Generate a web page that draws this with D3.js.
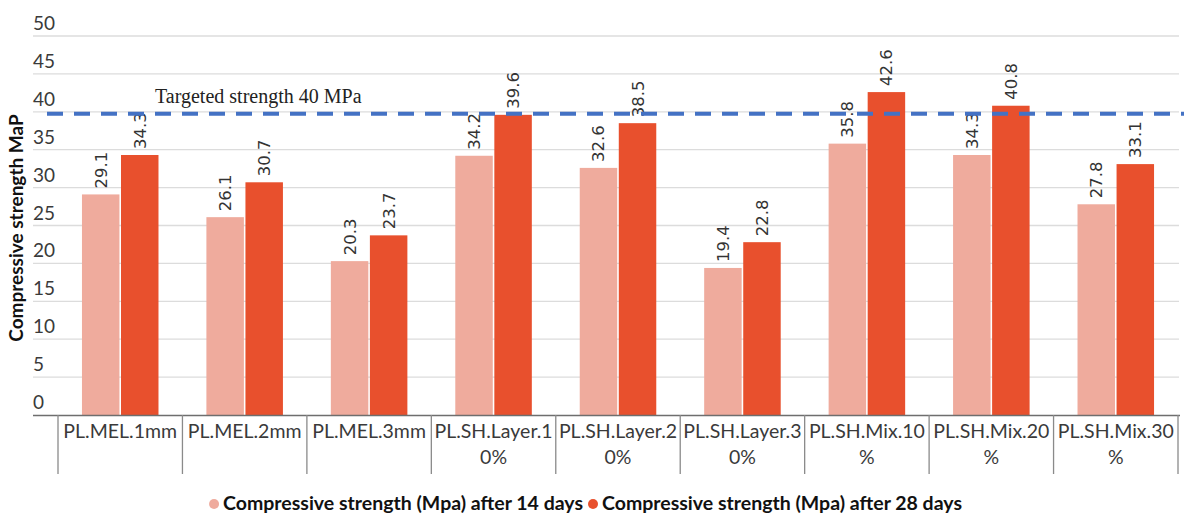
<!DOCTYPE html>
<html><head><meta charset="utf-8">
<script src="https://cdn.jsdelivr.net/npm/d3@7"></script>
<style>body{margin:0;background:#fff}svg{display:block}</style>
</head><body>
<svg id="c" width="1200" height="530"></svg>
<script>
const categories = [["PL.MEL.1mm"],["PL.MEL.2mm"],["PL.MEL.3mm"],["PL.SH.Layer.1","0%"],["PL.SH.Layer.2","0%"],["PL.SH.Layer.3","0%"],["PL.SH.Mix.10","%"],["PL.SH.Mix.20","%"],["PL.SH.Mix.30","%"]];
const seriesNames = ["Compressive strength (Mpa) after 14 days","Compressive strength (Mpa) after 28 days"];
const days14 = [29.1,26.1,20.3,34.2,32.6,19.4,35.8,34.3,27.8];
const days28 = [34.3,30.7,23.7,39.6,38.5,22.8,42.6,40.8,33.1];
const yTicks = [0,5,10,15,20,25,30,35,40,45,50];
const target = 40;
const targetLabel = "Targeted strength 40 MPa";
const yTitle = "Compressive strength MaP";
const colors = ["#EFAB9D","#E8502D"];

const svg = d3.select("#c");
const keys = categories.map((c,i)=>c.join(" ")+i);
const y = d3.scaleLinear().domain([0,50]).range([415,36]);
const x = d3.scaleBand().domain(keys).range([58,1178]);
const gw = x.bandwidth()*0.615;
const x1 = d3.scaleBand().domain([0,1]).range([0,gw]).paddingInner(0.04);

// gridlines
svg.append("g").selectAll("line").data(yTicks.filter(t=>t>0)).join("line")
  .attr("x1",33).attr("x2",1179).attr("y1",d=>y(d)).attr("y2",d=>y(d))
  .attr("stroke","#dcdcdc").attr("stroke-width",1.3);
// y tick labels
svg.append("g").selectAll("text").data(yTicks).join("text")
  .attr("x",33).attr("y",d=>y(d)-6).text(d=>d)
  .attr("font-family","Lato").attr("font-size",19).attr("fill","#3a3a3a");

// bars
const data = [];
keys.forEach((k,i)=>{data.push({k,s:0,v:days14[i]});data.push({k,s:1,v:days28[i]});});
const off = (x.bandwidth()-gw)/2;
svg.append("g").selectAll("rect").data(data).join("rect")
  .attr("x",d=>x(d.k)+off+x1(d.s)).attr("width",x1.bandwidth())
  .attr("y",d=>y(d.v)).attr("height",d=>y(0)-y(d.v))
  .attr("fill",d=>colors[d.s]);
// value labels
svg.append("g").selectAll("text").data(data).join("text")
  .attr("transform",d=>`translate(${x(d.k)+off+x1(d.s)+x1.bandwidth()/2+6},${y(d.v)-6}) rotate(-90)`)
  .text(d=>d.v.toFixed(1))
  .attr("font-family","DejaVu Sans").attr("font-size",16.5).attr("fill","#333");

// target dashed line
svg.append("line").attr("x1",47).attr("x2",1184).attr("y1",y(target)+2).attr("y2",y(target)+2)
  .attr("stroke","#4472C4").attr("stroke-width",4).attr("stroke-dasharray","16,11");
svg.append("text").attr("x",155).attr("y",103).text(targetLabel)
  .attr("font-family","Liberation Serif").attr("font-size",20).attr("fill","#222");

// x axis
svg.append("line").attr("x1",33).attr("x2",1180).attr("y1",y(0)+0.5).attr("y2",y(0)+0.5)
  .attr("stroke","#6e6e6e").attr("stroke-width",1.5);
const bounds = keys.map(k=>x(k)).concat([x(keys[keys.length-1])+x.bandwidth()]);
svg.append("g").selectAll("line").data(bounds).join("line")
  .attr("x1",d=>d).attr("x2",d=>d).attr("y1",y(0)).attr("y2",474)
  .attr("stroke","#8a8a8a").attr("stroke-width",1.3);
const cl = svg.append("g").selectAll("text").data(keys).join("text")
  .attr("text-anchor","middle").attr("font-family","Lato").attr("font-size",19.5).attr("fill","#3a3a3a");
cl.each(function(k,i){
  const t=d3.select(this);
  categories[i].forEach((s,j)=>t.append("tspan").attr("x",x(k)+x.bandwidth()/2).attr("y",438+j*26).text(s));
});

// y title
svg.append("text").attr("transform","translate(23,228) rotate(-90)").attr("text-anchor","middle")
  .text(yTitle).attr("font-family","Lato").attr("font-weight","bold").attr("font-size",19).attr("fill","#111");

// legend
const lg = svg.append("g");
let lx = 0;
seriesNames.forEach((n,i)=>{
  const g = lg.append("g").attr("transform",`translate(${lx},0)`);
  g.append("circle").attr("cx",5).attr("cy",-6).attr("r",5).attr("fill",colors[i]);
  const t = g.append("text").attr("x",14).attr("y",0).text(n)
    .attr("font-family","Lato").attr("font-weight","bold").attr("font-size",19.5).attr("fill","#111");
  lx += 14 + t.node().getComputedTextLength() + 5;
});
lg.attr("transform",`translate(${588-lx/2},510)`);
</script>
</body></html>
